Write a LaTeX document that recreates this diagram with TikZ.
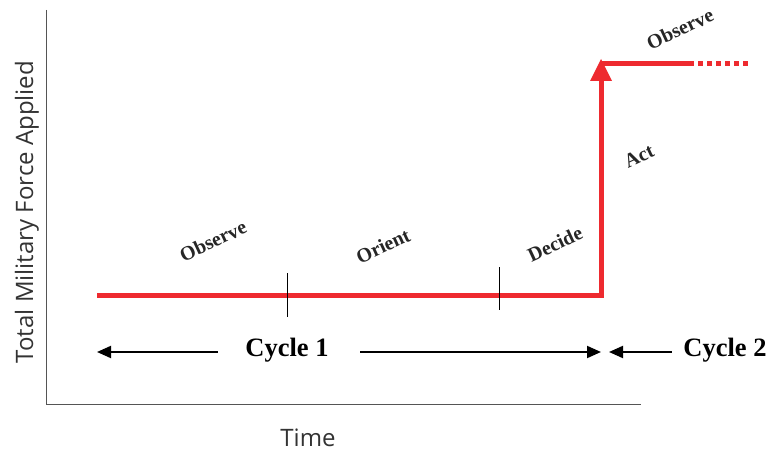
\documentclass[tikz,border=0pt]{standalone}
\usepackage{fontspec}
\setmainfont{Liberation Serif}
\newfontfamily\axisfont{Open Sans}
\usetikzlibrary{arrows.meta}
\definecolor{forcered}{HTML}{EE2A2F}
\definecolor{axisgray}{HTML}{555555}
\begin{document}
\begin{tikzpicture}[x=1pt,y=-1pt,
  axis/.style={draw=axisgray,line width=1pt},
  force/.style={draw=forcered,line width=5pt},
  tickmark/.style={draw=black,line width=0.9pt},
  phase/.style={font=\fontsize{20}{20}\selectfont\bfseries,rotate=25,text=black!85,inner sep=0pt},
  axislabel/.style={font=\axisfont\fontsize{24}{24}\selectfont,text=black!80},
  cycletext/.style={font=\fontsize{26.5}{26.5}\selectfont\bfseries},
  span/.style={draw=black,line width=2pt,-{Triangle[length=14pt,width=12pt]}}]
\useasboundingbox (0,0) rectangle (769,452);

% axes
\coordinate (top) at (46,10);
\coordinate (origin) at (46,404);
\coordinate (right) at (641,404);
\draw[axis] (top) -- (origin) -- (right);
\node[axislabel,rotate=90] (ylab) at (27,212) {Total Military Force Applied};
\node[axislabel] (xlab) at (308,438) {Time};

% force level over time
\coordinate (start) at (97,295);
\coordinate (step) at (601,295);
\coordinate (peak) at (601,59);
\coordinate (hold) at (601,64);
\coordinate (holdend) at (694,64);
\coordinate (future) at (750,64);
\draw[force,line join=miter] (start) -- (step) -- ([yshift=-4pt]peak);
\fill[forcered] (peak) -- ++(-11,22) -- ++(22,0) -- cycle;
\draw[force] (hold) -- (holdend);
\draw[force,dash pattern=on 4.5pt off 4.5pt] ([xshift=4pt]holdend) -- (future);

% phase boundaries
\coordinate (t1a) at (287,273);
\coordinate (t1b) at (287,317);
\coordinate (t2a) at (499,267);
\coordinate (t2b) at (499,310);
\draw[tickmark] (t1a) -- (t1b);
\draw[tickmark] (t2a) -- (t2b);

% phase labels
\node[phase] (obs1) at (213,241) {Observe};
\node[phase] (ori) at (383,246) {Orient};
\node[phase] (dec) at (555,244) {Decide};
\node[phase] (act) at (639,156) {Act};
\node[phase] (obs2) at (680,29) {Observe};

% cycles
\node[cycletext] (c1) at (287,350) {Cycle 1};
\node[cycletext] (c2) at (725,350) {Cycle 2};
\coordinate (c1l) at (97,352);
\coordinate (c1r) at (601,352);
\coordinate (c2l) at (609,352);
\draw[span] (c1.west |- c1l) ++(-24,0) coordinate (c1ls) -- (c1l);
\draw[span] (c1.east |- c1r) ++(28,0) coordinate (c1rs) -- (c1r);
\draw[span] (c2.west |- c2l) ++(-8,0) coordinate (c2s) -- (c2l);
\end{tikzpicture}
\end{document}
